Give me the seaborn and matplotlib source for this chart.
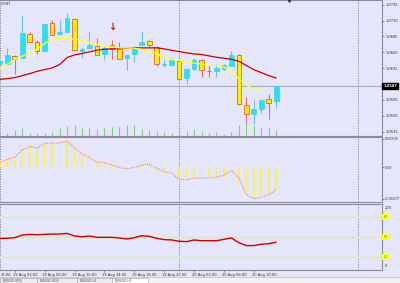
import numpy as np
import pandas as pd
import matplotlib
matplotlib.use("Agg")
import matplotlib.pyplot as plt
import matplotlib.transforms as mtransforms
from matplotlib.patches import Rectangle
import seaborn as sns

# ---------------- data ----------------
bars = list(range(-1, 37))  # hourly bars, 0 = 19 Aug 01:00
opens = [1.06421, 1.06421, 1.06537, 1.06516, 1.06880, 1.06764, 1.06622, 1.07055, 1.06880, 1.06912,
         1.07123, 1.06622, 1.06674, 1.06701, 1.06569, 1.06711, 1.06659, 1.06516, 1.06569, 1.06711,
         1.06775, 1.06685, 1.06395, 1.06405, 1.06458, 1.06199, 1.06342, 1.06484, 1.06310, 1.06305,
         1.06342, 1.06379, 1.06553, 1.05772, 1.05629, 1.05698, 1.05867, 1.05825]
highs = [1.06474, 1.06669, 1.06553, 1.07176, 1.06912, 1.06791, 1.07055, 1.07107, 1.07107, 1.07213,
         1.07134, 1.06685, 1.06933, 1.06817, 1.06701, 1.06801, 1.06764, 1.06580, 1.06701, 1.06933,
         1.06791, 1.06701, 1.06500, 1.06516, 1.06474, 1.06353, 1.06516, 1.06500, 1.06395, 1.06421,
         1.06411, 1.06622, 1.06580, 1.05893, 1.05841, 1.05856, 1.05936, 1.06062]
lows = [1.06411, 1.06395, 1.06263, 1.06516, 1.06764, 1.06580, 1.06622, 1.06870, 1.06870, 1.06912,
        1.06632, 1.06516, 1.06659, 1.06553, 1.06484, 1.06500, 1.06490, 1.06316, 1.06448, 1.06711,
        1.06685, 1.06379, 1.06368, 1.06384, 1.06184, 1.06094, 1.06316, 1.06210, 1.06210, 1.06210,
        1.06316, 1.06379, 1.05761, 1.05471, 1.05471, 1.05645, 1.05540, 1.05719]
closes = [1.06458, 1.06553, 1.06495, 1.06896, 1.06764, 1.06616, 1.07044, 1.06870, 1.06912, 1.07134,
          1.06632, 1.06659, 1.06711, 1.06564, 1.06674, 1.06659, 1.06500, 1.06564, 1.06685, 1.06764,
          1.06711, 1.06421, 1.06421, 1.06484, 1.06184, 1.06342, 1.06484, 1.06316, 1.06305, 1.06353,
          1.06395, 1.06553, 1.05777, 1.05629, 1.05698, 1.05841, 1.05804, 1.06062]
volumes = [200, 300, 600, 800, 300, 300, 300, 400, 800, 1000, 1100, 800, 800, 700, 800, 900, 900,
           1100, 1100, 700, 600, 500, 400, 300, 700, 500, 700, 500, 300, 400, 200, 400, 1100, 1300,
           1000, 900, 900, 600]
ma_fast = [1.06342, 1.06411, 1.06484, 1.06537, 1.06590, 1.06643, 1.06738, 1.06801, 1.06822, 1.06822,
           1.06807, 1.06780, 1.06748, 1.06722, 1.06701, 1.06680, 1.06669, 1.06669, 1.06664, 1.06643,
           1.06616, 1.06580, 1.06516, 1.06484, 1.06469, 1.06448, 1.06427, 1.06416, 1.06395, 1.06390,
           1.06368, 1.06289, 1.06184, 1.06078, 1.06020, 1.05988, np.nan, np.nan]
ma_slow = [1.06173, 1.06184, 1.06200, 1.06231, 1.06263, 1.06300, 1.06326, 1.06353, 1.06405, 1.06516,
           1.06558, 1.06580, 1.06606, 1.06632, 1.06648, 1.06653, 1.06659, 1.06664, 1.06669, 1.06669,
           1.06669, 1.06669, 1.06653, 1.06632, 1.06611, 1.06590, 1.06574, 1.06564, 1.06543, 1.06521,
           1.06506, 1.06490, 1.06458, 1.06390, 1.06326, 1.06279, 1.06231, 1.06194]
macd_hist = [0.00068, 0.00095, 0.00115, 0.00214, 0.00246, 0.00214, 0.00285, 0.00285, 0.00285, 0.00317,
             0.00205, 0.00146, 0.00115, 0.00059, 0.00047, 0.00036, 0.00008, -0.00020, 0.00000, 0.00024,
             0.00036, -0.00044, -0.00063, -0.00080, -0.00151, -0.00139, -0.00131, -0.00127, -0.00127,
             -0.00127, -0.00119, -0.00027, -0.00186, -0.00324, -0.00364, -0.00344, -0.00324, -0.00265]
macd_signal = [0.00059, 0.00095, 0.00119, 0.00205, 0.00246, 0.00226, 0.00285, 0.00285, 0.00285, 0.00312,
               0.00226, 0.00158, 0.00115, 0.00059, 0.00055, 0.00028, -0.00004, -0.00020, 0.00000, 0.00024,
               0.00036, -0.00012, -0.00051, -0.00071, -0.00142, -0.00150, -0.00131, -0.00127, -0.00127,
               -0.00119, -0.00095, -0.00040, -0.00127, -0.00324, -0.00372, -0.00356, -0.00328, -0.00265]
rsi = [48, 48, 49, 53, 54, 53.5, 54, 54.5, 54.5, 55.5, 51.5, 50.4, 51.5, 49.5, 49.5, 49.5, 48.5, 47,
       49, 52, 51, 48, 46, 45.5, 43.5, 43, 45.5, 44.4, 44.4, 44.4, 46.5, 48.5, 41.4, 37, 37, 39, 40, 42]
rsi_levels = [80, 50, 20]

price_ticks = [1.0735, 1.0710, 1.0685, 1.0660, 1.0635, 1.0585, 1.0560, 1.0535]
macd_ticks = [0.00335, 0.0, -0.00377]
macd_tick_labels = ["0.00335", "0.00", "-0.00377"]
time_pos = [1, 5, 9, 13, 17, 21, 25, 29, 33]
time_labels = ["19 Aug 02:00", "19 Aug 06:00", "19 Aug 10:00", "19 Aug 14:00",
               "19 Aug 18:00", "19 Aug 22:00", "20 Aug 02:00", "20 Aug 06:00", "20 Aug 10:00"]
edge_time_label = "22:00"
day_separators = [-1, 23, 47]
signal_bar = 14
signal_price = 1.07003
shift_mark = 37.7
bid_text = "1.0587"
corner_text = ".0587"
tabs = ["EURUSD,M30", "EURUSD,M30", "EURUSD,H1", "EURUSD,H1"]

df = pd.DataFrame({"bar": bars, "open": opens, "high": highs, "low": lows, "close": closes,
                   "vol": volumes, "ma_fast": ma_fast, "ma_slow": ma_slow,
                   "hist": macd_hist, "signal": macd_signal, "rsi": rsi})

# ---------------- style ----------------
BG = "#e6e6fa"
sns.set_theme(style="white", rc={"axes.facecolor": BG, "figure.facecolor": BG})
plt.rcParams["font.family"] = ["DejaVu Sans"]
FS = 2.6

W, H = 400, 283
fig = plt.figure(figsize=(W / 100, H / 100), dpi=100)
right = 382 / W


def mkax(top, bottom):
    return fig.add_axes([0, 1 - bottom / H, right, (bottom - top) / H])


ax = mkax(0, 135.5)
axm = mkax(137, 202)
axr = mkax(204, 270)

# volume overlay (twin axis created first so the price axis stays on the right)
axv = ax.twinx()
axv.set_ylim(0, 13550)
axv.patch.set_visible(False)
for s in axv.spines.values():
    s.set_visible(False)
axv.tick_params(axis="both", left=False, right=False, labelleft=False, labelright=False,
                bottom=False, labelbottom=False)
axv.vlines(df["bar"], 0, df["vol"], color="#7fd07f", lw=0.8)

xlim = (-7.3 / 7.47, (382 - 7.3) / 7.47)
for a in (ax, axm, axr):
    a.set_xlim(*xlim)
    a.set_facecolor(BG)
    for s in ("top", "bottom", "right"):
        a.spines[s].set_color("#8a8a9a")
        a.spines[s].set_linewidth(0.8)
    a.spines["left"].set_visible(False)
    a.tick_params(axis="x", bottom=False, labelbottom=False)
    a.yaxis.tick_right()
    a.yaxis.set_label_position("right")
    a.tick_params(axis="y", left=False, labelleft=False, right=True, labelright=True,
                  length=1.5, width=0.4, pad=1, labelsize=FS, colors="#333333", direction="out")
    for d in day_separators:
        a.axvline(d, color="#7a7a8a", lw=0.6, ls=(0, (1.5, 1.5)), zorder=1)
axv.set_xlim(*xlim)

# ---------------- main panel ----------------
ax.set_ylim(1.05287, 1.07424)
ax.set_yticks(price_ticks)
ax.set_yticklabels([f"{t:.4f}" for t in price_ticks])

ax.axhline(df["close"].iloc[-1], color="#a4acc8", lw=0.8, zorder=1)

bull = df["close"] >= df["open"]
wick_col = np.where(bull, "#6cc0e8", "#e07070")
ax.vlines(df["bar"], df["low"], df["high"], colors=wick_col, lw=0.8, zorder=2)
body_bottom = np.minimum(df["open"], df["close"])
body_h = np.abs(df["close"] - df["open"])
ax.bar(df["bar"][bull], body_h[bull], bottom=body_bottom[bull], width=0.62,
       color="#22e4f2", edgecolor="#50c8e8", lw=0.5, zorder=3)
ax.bar(df["bar"][~bull], body_h[~bull], bottom=body_bottom[~bull], width=0.62,
       color="#ffee00", edgecolor="#e06040", lw=0.6, zorder=3)

sns.lineplot(data=df, x="bar", y="ma_slow", ax=ax, color="#cc0000", lw=0.9, zorder=4)
sns.lineplot(data=df, x="bar", y="ma_fast", ax=ax, color="#ffff40", lw=1.0, zorder=4)
ax.set_xlabel("")
ax.set_ylabel("")

ax.text(signal_bar, signal_price, "↓", color="#e01010", fontsize=7, fontweight="bold",
        ha="center", va="center", zorder=5)
ax.plot([shift_mark], [1.0], marker="v", color="#333333", ms=2.5,
        transform=mtransforms.blended_transform_factory(ax.transData, ax.transAxes),
        clip_on=False, zorder=6)
ax.text(0.002, 0.985, corner_text, transform=ax.transAxes, fontsize=FS, color="#333333",
        ha="left", va="top")
ax.text(1.003, df["close"].iloc[-1], bid_text, color="white", fontsize=FS, fontweight="bold",
        ha="left", va="center",
        transform=mtransforms.blended_transform_factory(ax.transAxes, ax.transData),
        bbox=dict(boxstyle="square,pad=0.25", fc="black", ec="black"), clip_on=False, zorder=7)

# ---------------- MACD panel ----------------
axm.set_ylim(-0.004131, 0.003585)
axm.set_yticks(macd_ticks)
axm.set_yticklabels(macd_tick_labels)
axm.tick_params(axis="y", labelsize=2.4, pad=0.6)
axm.bar(df["bar"], df["hist"], width=0.22, color="#f4f060", lw=0, zorder=2)
sns.lineplot(data=df, x="bar", y="signal", ax=axm, color="#f08080", lw=0.8,
             linestyle=(0, (1, 1)), zorder=3)
axm.set_xlabel("")
axm.set_ylabel("")

# ---------------- RSI panel ----------------
axr.set_ylim(0, 100)
axr.set_yticks([])
for lv in rsi_levels:
    axr.axhline(lv, color="#f0f050", lw=0.9, zorder=2)
    axr.text(1.004, lv, f"{lv}", fontsize=2.2, color="#808000", ha="left", va="center",
             transform=mtransforms.blended_transform_factory(axr.transAxes, axr.transData),
             bbox=dict(boxstyle="square,pad=0.4", fc="#ffff20", ec="none"), clip_on=False)
blend_r = mtransforms.blended_transform_factory(axr.transAxes, axr.transData)
axr.text(1.006, 97, "100", fontsize=FS, color="#333333", ha="left", va="top", transform=blend_r)
axr.text(1.006, 3, "0", fontsize=FS, color="#333333", ha="left", va="bottom", transform=blend_r)
sns.lineplot(data=df, x="bar", y="rsi", ax=axr, color="#cc0000", lw=1.0, zorder=3)
axr.set_xlabel("")
axr.set_ylabel("")

blend_x = mtransforms.blended_transform_factory(axr.transData, axr.transAxes)
axr.text(0.001, -0.04, edge_time_label, fontsize=FS, color="#333333", ha="left", va="top",
         transform=axr.transAxes, clip_on=False)
for p, lab in zip(time_pos, time_labels):
    axr.text(p - 0.3, -0.04, lab, fontsize=FS, color="#333333", ha="left", va="top",
             transform=blend_x, clip_on=False)
    axr.plot([p, p], [0, -0.03], color="#555555", lw=0.4, transform=blend_x, clip_on=False)

# ---------------- bottom tab strip ----------------
fig.patches.append(Rectangle((0, 0), 1, 6 / H, transform=fig.transFigure, fc="#f2f2f2",
                             ec="#b0b0b0", lw=0.4, zorder=0))
tab_x = [0, 37, 77, 112]
tab_w = [37, 40, 35, 36]
for i, (tx, tw, tl) in enumerate(zip(tab_x, tab_w, tabs)):
    fc = "white" if i == len(tabs) - 1 else "#ececec"
    fig.patches.append(Rectangle((tx / W, 0), tw / W, 5.5 / H, transform=fig.transFigure,
                                 fc=fc, ec="#a0a0a0", lw=0.4))
    fig.text((tx + 3) / W, 2.5 / H, tl, fontsize=2.2, color="#555555", ha="left", va="center")

fig.savefig("out.png", dpi=100)
